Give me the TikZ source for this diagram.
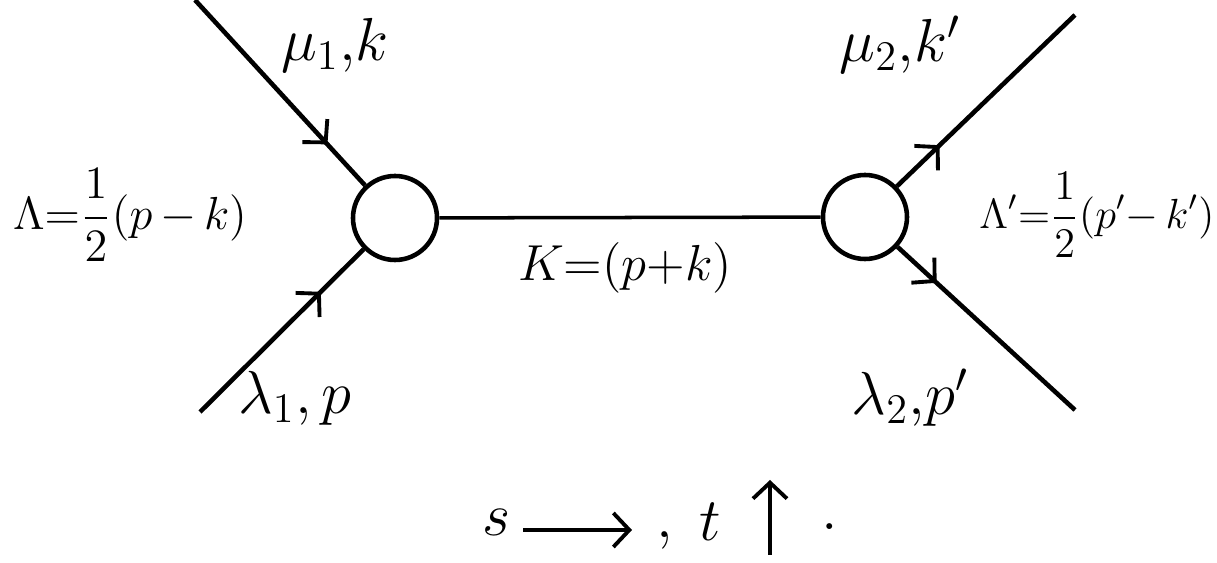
\documentclass[tikz,border=0pt]{standalone}
\usetikzlibrary{decorations.markings,arrows.meta}
\tikzset{
  blob/.style={circle, draw, line width=1.3pt, minimum size=8.4mm, inner sep=0pt},
  leg/.style={line width=1.3pt},
  flow/.style={postaction={decorate},
    decoration={markings, mark=at position #1 with {\arrow{Straight Barb[length=1.6mm,width=3.4mm,line width=1.1pt]}}}},
  lab/.style={font=\LARGE},
  eqlab/.style={font=\Large, inner sep=0pt},
  chanarrow/.style={line width=1.3pt, -{Straight Barb[length=1.6mm,width=3.4mm,line width=1.1pt]}}
}
\begin{document}
\begin{tikzpicture}[x=1cm, y=-1cm]
\useasboundingbox (0,0) rectangle (12.17,5.63);

% Vertices
\node[blob] (va) at (3.95,2.18) {};
\node[blob] (vb) at (8.65,2.17) {};

% Free ends of the legs
\coordinate (inA) at (1.95,0);
\coordinate (inB) at (2.00,4.12);
\coordinate (outA) at (10.75,0.15);
\coordinate (outB) at (10.75,4.10);

% Legs
\draw[leg, flow=0.78] (inA) -- (va);
\draw[leg, flow=0.74] (inB) -- (va);
\draw[leg, flow=0.24] (vb) -- (outA);
\draw[leg, flow=0.22] (vb) -- (outB);

% Propagator
\draw[line width=1pt] (va) -- (vb);

% Labels
\node[lab] (muA) at (3.35,0.45) {$\mu_1{,}k$};
\node[lab] (lamA) at (2.95,3.98) {$\lambda_1{,}\,p$};
\node[eqlab, font=\large, scale=1.1, transform shape] (capA) at (1.30,2.15) {$\displaystyle\Lambda{=}\frac{1}{2}(p\,{-}\,k)$};
\node[eqlab] (capK) at (6.25,2.68) {$K{=}(p{+}k)$};
\node[lab] (muB) at (9.00,0.45) {$\mu_2{,}k'$};
\node[lab] (lamB) at (9.10,3.98) {$\lambda_2{,}p'$};
\node[eqlab, font=\large] (capB) at (10.97,2.15) {$\displaystyle\Lambda'{=}\frac{1}{2}(p'{-}\,k')$};

% Channels
\node[lab] (sLab) at (4.97,5.22) {$s$};
\coordinate (sEnd) at (6.32,5.30);
\node[lab] (comma) at (6.65,5.40) {$,$};
\node[lab] (tLab) at (7.10,5.22) {$t$};
\coordinate (tFoot) at (7.70,5.55);
\coordinate (tHead) at (7.70,4.80);
\node[lab] (dot) at (8.30,5.27) {$.$};
\draw[chanarrow] (sLab.east |- sEnd) -- (sEnd);
\draw[chanarrow] (tFoot) -- (tHead);
\end{tikzpicture}
\end{document}
